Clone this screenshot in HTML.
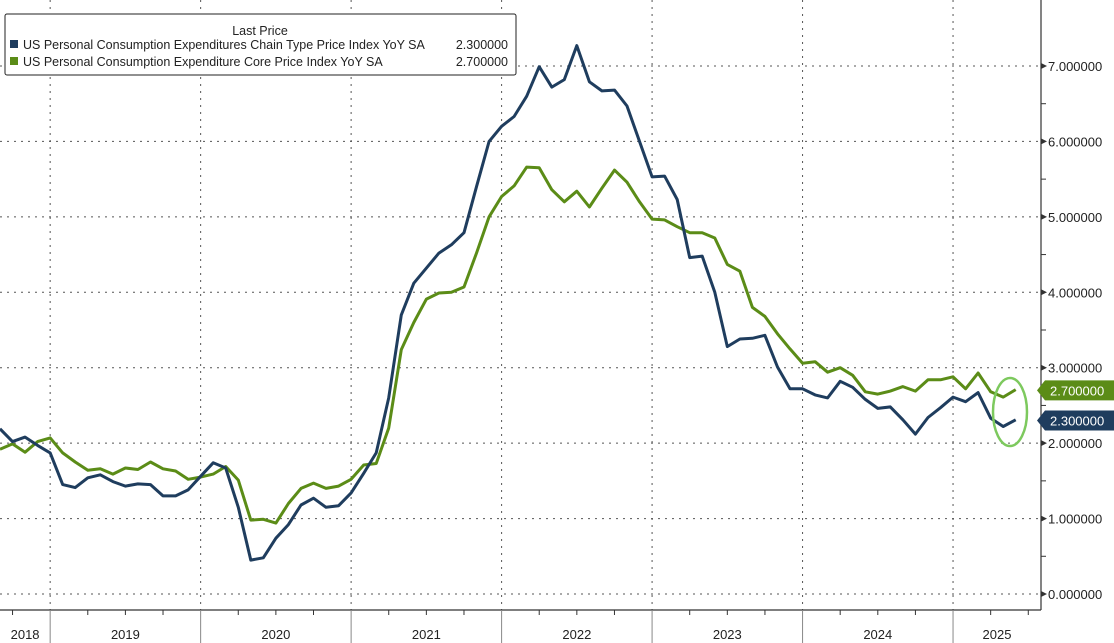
<!DOCTYPE html>
<html><head><meta charset="utf-8"><style>
html,body{margin:0;padding:0;background:#fff;}
svg{display:block;font-family:"Liberation Sans",Arial,sans-serif;}
</style></head><body>
<svg id="chart" width="1114" height="643" viewBox="0 0 1114 643">
<g id="grid"></g>
<g id="axes"></g>
<g id="series"></g>
<ellipse cx="1010" cy="412" rx="17" ry="34" fill="none" stroke="#7dc95e" stroke-width="2.5"/>
<g>
<rect x="5" y="14" width="511" height="61" fill="#fff" stroke="#222" stroke-width="1" rx="2"/>
<text x="260" y="35" font-size="12.5" text-anchor="middle" fill="#222">Last Price</text>
<rect x="10" y="40" width="8" height="8" fill="#1f3d5e"/>
<text x="23" y="49" font-size="12.5" fill="#222">US Personal Consumption Expenditures Chain Type Price Index YoY SA</text>
<text x="508" y="49" font-size="12.5" fill="#222" text-anchor="end">2.300000</text>
<rect x="10" y="57" width="8" height="8" fill="#5b8c17"/>
<text x="23" y="66" font-size="12.5" fill="#222">US Personal Consumption Expenditure Core Price Index YoY SA</text>
<text x="508" y="66" font-size="12.5" fill="#222" text-anchor="end">2.700000</text>
</g>
</svg>
<script>
const headline = [2.19,2.02,2.08,1.97,1.87,1.45,1.41,1.54,1.58,1.49,1.43,1.46,1.45,1.30,1.30,1.38,1.56,1.74,1.67,1.15,0.45,0.48,0.74,0.92,1.18,1.27,1.15,1.17,1.34,1.60,1.87,2.6,3.70,4.12,4.32,4.52,4.63,4.79,5.40,6.0,6.2,6.33,6.6,6.99,6.72,6.82,7.27,6.79,6.67,6.68,6.47,6.0,5.53,5.54,5.23,4.46,4.48,4.0,3.28,3.38,3.39,3.43,3.01,2.72,2.72,2.64,2.6,2.82,2.74,2.58,2.46,2.48,2.31,2.12,2.34,2.47,2.61,2.55,2.67,2.33,2.22,2.31];
const core = [1.92,1.99,1.88,2.02,2.07,1.87,1.75,1.64,1.66,1.59,1.67,1.65,1.75,1.66,1.63,1.52,1.55,1.59,1.69,1.51,0.98,0.99,0.94,1.2,1.4,1.47,1.4,1.43,1.52,1.71,1.73,2.2,3.24,3.6,3.91,3.99,4.0,4.07,4.52,5.0,5.27,5.41,5.66,5.65,5.36,5.2,5.34,5.13,5.38,5.62,5.46,5.2,4.97,4.96,4.87,4.79,4.79,4.72,4.37,4.28,3.8,3.68,3.45,3.25,3.06,3.08,2.94,3.0,2.9,2.68,2.65,2.69,2.75,2.69,2.84,2.84,2.88,2.72,2.93,2.68,2.61,2.71];
const yTicks = [0,1,2,3,4,5,6,7];
const years = ["2018","2019","2020","2021","2022","2023","2024","2025"];
const lastHeadline = 2.3;
const lastCore = 2.7;

const NS="http://www.w3.org/2000/svg";
const step=12.54, axisX=1041, axisY=610;
function xScale(i){return i*step;}
function yScale(v){return 594-v*75.43;}
function mk(tag,attrs,parent){const e=document.createElementNS(NS,tag);for(const k in attrs)e.setAttribute(k,attrs[k]);parent.appendChild(e);return e;}
const grid=document.getElementById('grid'),axes=document.getElementById('axes'),series=document.getElementById('series');

yTicks.forEach(v=>{
  const y=yScale(v);
  const l=mk('line',{x1:0,x2:axisX,y1:y,y2:y,stroke:'#555','stroke-width':1,'stroke-dasharray':'2,5'},grid);
  
  
  const t=mk('path',{d:`M${axisX},${y-3}L${axisX+6},${y}L${axisX},${y+3}Z`,fill:'#333'},axes);
  
  
  const tx=mk('text',{x:axisX+7,y:y+5,'font-size':13,fill:'#222'},axes);
  tx.textContent=v.toFixed(6);
  
  
  if(v<7){const m=mk('line',{x1:axisX,x2:axisX+5,y1:yScale(v+0.5),y2:yScale(v+0.5),stroke:'#333'},axes);
  
  }
});
mk('line',{x1:axisX,x2:axisX,y1:0,y2:axisY,stroke:'#333','stroke-width':1.2},axes);
mk('line',{x1:0,x2:axisX,y1:axisY,y2:axisY,stroke:'#333','stroke-width':1.2},axes);

years.forEach((yr,k)=>{
  const start=k===0?0:xScale(4+12*(k-1));
  const end=Math.min(axisX,xScale(4+12*k));
  if(k>0){
    const g=mk('line',{x1:start,x2:start,y1:0,y2:axisY,stroke:'#555','stroke-width':1,'stroke-dasharray':'2,5'},grid);
    
    
    const s=mk('line',{x1:start,x2:start,y1:axisY,y2:643,stroke:'#888','stroke-width':1},axes);
    
    
  }
  for(let q=1;q<4;q++){const qx=xScale(4+12*(k-1)+3*q);if(qx>0&&qx<axisX){mk('line',{x1:qx,x2:qx,y1:axisY,y2:axisY+5,stroke:'#333'},axes);}}
  const t=mk('text',{x:(start+end)/2,y:639,'font-size':13,'text-anchor':'middle',fill:'#222'},axes);
  t.textContent=yr;
  
  
});

function drawLine(data,color,name){
  const d=data.map((v,i)=>(i?'L':'M')+xScale(i).toFixed(1)+','+yScale(v).toFixed(1)).join('');
  const p=mk('path',{d:d,fill:'none',stroke:color,'stroke-width':3,'stroke-linejoin':'round'},series);
  
  
}
drawLine(core,'#5b8c17','core-pce-line');
drawLine(headline,'#1f3d5e','headline-pce-line');

function tag(v,color,name){
  const y=yScale(v);
  const g=mk('g',{},axes);
  
  
  mk('path',{d:`M${axisX-4},${y}L${axisX+4},${y-10}L1114,${y-10}L1114,${y+10}L${axisX+4},${y+10}Z`,fill:color},g);
  const t=mk('text',{x:1050,y:y+5,'font-size':13,fill:'#fff'},g);
  t.textContent=v.toFixed(6);
}
tag(lastCore,'#5b8c17','core-last-value-tag');
tag(lastHeadline,'#1f3d5e','headline-last-value-tag');
</script>
</body></html>
